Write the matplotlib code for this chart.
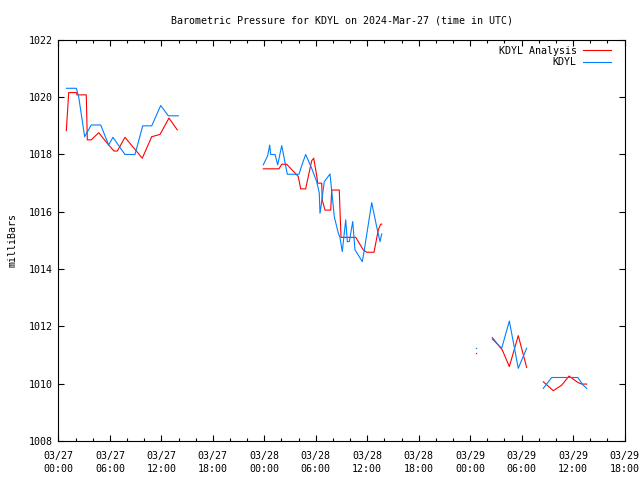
import matplotlib
matplotlib.use("Agg")
import matplotlib.pyplot as plt
import matplotlib.dates as mdates
import numpy as np
import pandas as pd

start = pd.Timestamp("2024-03-27 00:00")

# hours after 03/27 00:00 UTC, pressure in mb ; segments split by NaN
ana_hours = [0.91, 0.99, 1.19, 2.08, 2.16, 3.24, 3.36, 3.82, 4.69, 5.77, 6.47, 6.86,
             7.75, 9.77, 10.87, 11.84, 12.88, 13.85, np.nan,
             23.88, 25.71, 26.03, 26.61, 27.96, 28.24, 28.82, 29.52, 29.76, 30.14,
             30.22, 30.69, 30.76, 31.08, 31.74, 31.86, 32.74, 32.94, 34.66, 35.54,
             35.94, 36.79, 37.29, 37.57, 37.69, np.nan,
             50.58, 51.75, 52.57, 53.61, 54.59, np.nan,
             56.53, 57.70, 58.67, 59.53, 60.54, 61.01, 61.59]
ana_mb = [1018.83, 1019.2, 1020.16, 1020.16, 1020.08, 1020.08, 1018.51, 1018.51, 1018.76,
          1018.36, 1018.12, 1018.12, 1018.6, 1017.87, 1018.62, 1018.7, 1019.27, 1018.86, np.nan,
          1017.50, 1017.50, 1017.66, 1017.66, 1017.23, 1016.80, 1016.80, 1017.78, 1017.87,
          1017.2, 1017.0, 1017.0, 1016.4, 1016.06, 1016.06, 1016.76, 1016.76, 1015.11,
          1015.11, 1014.67, 1014.59, 1014.59, 1015.37, 1015.57, 1015.57, np.nan,
          1011.61, 1011.18, 1010.6, 1011.68, 1010.57, np.nan,
          1010.07, 1009.76, 1009.95, 1010.27, 1010.05, 1009.99, 1009.99]

obs_hours = [0.91, 2.08, 2.36, 3.05, 3.82, 4.92, 5.85, 6.35, 7.75, 8.92, 9.82, 10.87,
             11.92, 12.8, 13.97, np.nan,
             23.88, 24.39, 24.63, 24.74, 25.25, 25.56, 26.03, 26.68, 28.04, 28.36, 28.82,
             29.52, 30.11, 30.41, 30.49, 30.61, 30.99, 31.66, 32.16, 32.63, 32.82, 33.09,
             33.49, 33.68, 33.91, 34.31, 34.57, 34.96, 35.42, 35.66, 36.52, 37.10, 37.49,
             37.69, np.nan,
             50.58, 51.68, 52.57, 53.61, 54.59, np.nan,
             56.53, 57.51, 60.54, 61.19, 61.59]
obs_mb = [1020.31, 1020.31, 1020.0, 1018.62, 1019.03, 1019.03, 1018.33, 1018.6, 1018.0,
          1018.0, 1019.0, 1019.0, 1019.71, 1019.35, 1019.35, np.nan,
          1017.64, 1017.96, 1018.33, 1018.0, 1018.0, 1017.64, 1018.31, 1017.31, 1017.31,
          1017.61, 1018.0, 1017.52, 1017.05, 1016.65, 1015.95, 1016.18, 1017.05, 1017.32,
          1015.83, 1015.25, 1015.11, 1014.61, 1015.72, 1014.96, 1014.96, 1015.66, 1014.67,
          1014.49, 1014.26, 1014.67, 1016.32, 1015.48, 1014.96, 1015.23, np.nan,
          1011.56, 1011.24, 1012.19, 1010.54, 1011.24, np.nan,
          1009.84, 1010.22, 1010.22, 1009.95, 1009.84]

# lone readings (drawn as dots)
lone_hour = [48.65]
lone_ana = [1011.09]
lone_obs = [1011.24]

RED = "#ff0000"
BLUE = "#0080ff"


def to_time(hours):
    return start + pd.to_timedelta(np.asarray(hours, dtype=float), unit="h")


plt.rcParams["font.family"] = "DejaVu Sans Mono"
plt.rcParams["font.size"] = 7.2

fig = plt.figure(figsize=(6.4, 4.8), dpi=100)
ax = fig.add_axes([0.0914, 0.081, 0.8844, 0.836])

ax.plot(to_time(ana_hours), ana_mb, color=RED, lw=0.8, label="KDYL Analysis")
ax.plot(to_time(obs_hours), obs_mb, color=BLUE, lw=0.8, label="KDYL")
ax.plot(to_time(lone_hour), lone_ana, ls="none", marker="s", ms=0.9, color=RED, mew=0)
ax.plot(to_time(lone_hour), lone_obs, ls="none", marker="s", ms=0.9, color=BLUE, mew=0)

ax.set_xlim(start, start + pd.Timedelta(hours=66))
ax.set_ylim(1008, 1022)
ax.set_yticks(np.arange(1008, 1023, 2))
ax.xaxis.set_major_locator(mdates.HourLocator(byhour=[0, 6, 12, 18]))
ax.xaxis.set_minor_locator(mdates.HourLocator(byhour=range(0, 24, 2)))
ax.xaxis.set_major_formatter(mdates.DateFormatter("%m/%d\n%H:%M"))
ax.tick_params(which="both", direction="in", top=True, right=True, width=0.8)
ax.tick_params(which="major", length=4)
ax.tick_params(which="minor", length=2.5)
ax.tick_params(axis="x", pad=7)
ax.tick_params(axis="y", pad=4)
for lbl in ax.get_xticklabels():
    lbl.set_linespacing(1.45)
for s in ax.spines.values():
    s.set_linewidth(0.8)

ax.set_ylabel("milliBars", labelpad=8)
ax.set_title("Barometric Pressure for KDYL on 2024-Mar-27 (time in UTC)",
             fontsize=7.2, pad=12)
ax.legend(loc="upper right", bbox_to_anchor=(0.986, 1.0), frameon=False,
          markerfirst=False, handlelength=2.8, borderaxespad=0.2,
          labelspacing=0.15, handletextpad=0.6)

fig.savefig("out.png", dpi=100)
